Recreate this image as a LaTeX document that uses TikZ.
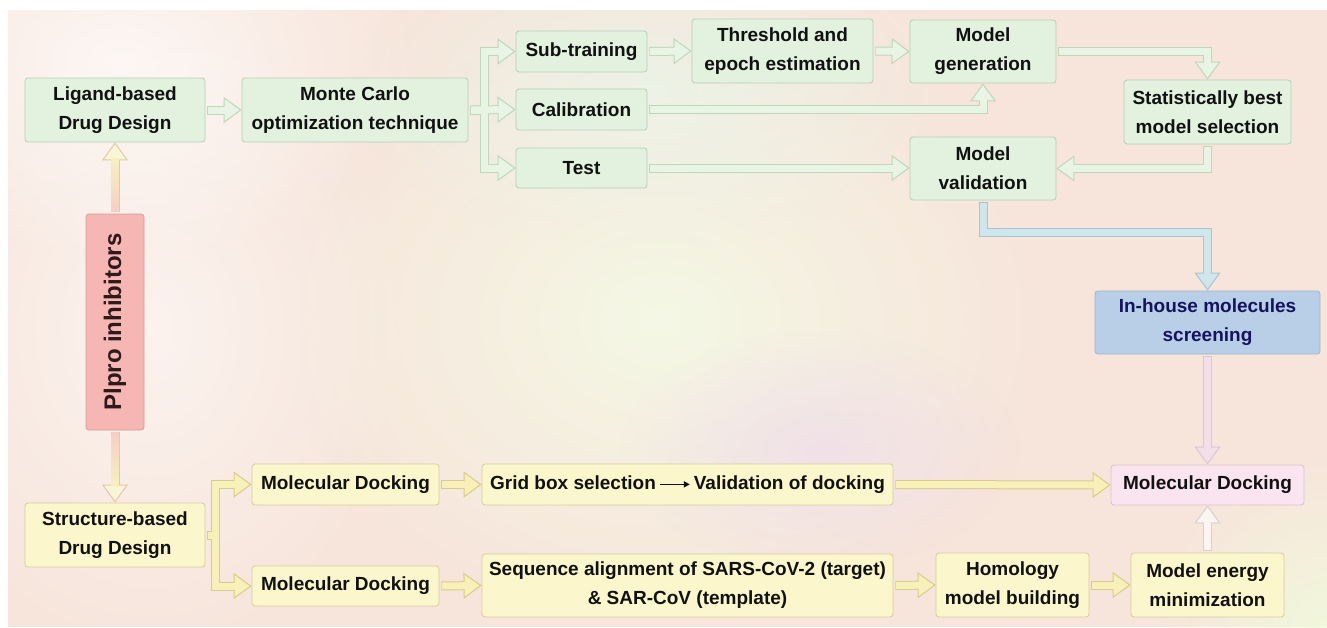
\documentclass[tikz,border=0pt]{standalone}
\usepackage{fontspec}
\setmainfont{Liberation Sans}
\usetikzlibrary{arrows.meta,fadings}
\definecolor{bgbase}{HTML}{F7E5DB}
\definecolor{gfill}{HTML}{E2F2DF}
\definecolor{gdraw}{HTML}{B9CDB5}
\definecolor{yfill}{HTML}{FBF6CC}
\definecolor{ydraw}{HTML}{D5CC9E}
\definecolor{rfill}{HTML}{F6B7B4}
\definecolor{rdraw}{HTML}{D69A98}
\definecolor{pltext}{HTML}{2E1A1A}
\definecolor{bfill}{HTML}{B9CFE7}
\definecolor{bdraw}{HTML}{9FB5CC}
\definecolor{btext}{HTML}{14145E}
\definecolor{pfill}{HTML}{F9E4EF}
\definecolor{pdraw}{HTML}{D8C4CF}
\definecolor{txt}{HTML}{111111}
\definecolor{gao}{HTML}{BFD6BA}
\definecolor{gaf}{HTML}{E8F5E4}
\definecolor{yao}{HTML}{D8CC8C}
\definecolor{yaf}{HTML}{F7F0B8}
\definecolor{cao}{HTML}{A9C4CF}
\definecolor{caf}{HTML}{CFE6EC}
\definecolor{pao}{HTML}{DCC6D4}
\definecolor{paf}{HTML}{F3DFE9}
\definecolor{wao}{HTML}{D8D0CC}
\definecolor{waf}{HTML}{FBF5F2}
\definecolor{oao}{HTML}{E2C9A8}
\definecolor{oyel}{HTML}{F8EFC0}
\definecolor{opink}{HTML}{F6CFC4}
\definecolor{otip}{HTML}{FBF5D8}
\definecolor{cgreen}{HTML}{F4F9E6}
\definecolor{lilac}{HTML}{EFDCEC}
\definecolor{cmint}{HTML}{EAF5E8}
\definecolor{cyel}{HTML}{F1F9DC}
\tikzfading[name=softc, inner color=transparent!0, outer color=transparent!100]
\tikzset{
  box/.style={rounded corners=3pt, line width=0.8pt, inner sep=0pt, align=center,
    font=\bfseries\fontsize{19}{29}\selectfont, text=txt},
  gbox/.style={box, fill=gfill, draw=gdraw},
  ybox/.style={box, fill=yfill, draw=ydraw},
  ao/.style 2 args={line width=9pt, draw=#1, line join=miter, shorten <=2pt,
    -{Triangle[length=18pt,width=26pt,line width=1pt,color=#1,fill=#2]}},
  ai/.style={line width=7pt, draw=#1, line join=miter, shorten <=2.5pt, shorten >=16.5pt},
}
\newcommand{\txtarrow}{\tikz[baseline=-0.5ex]\draw[line width=1.6pt,-{Triangle[length=6pt,width=6pt]}] (0pt,0pt) -- (30pt,0pt);}
\begin{document}
\begin{tikzpicture}[x=1pt,y=-1pt]
\useasboundingbox (0,0) rectangle (1327,627);
% background
\begin{scope}
\clip (8,10) rectangle (1327,627);
\fill[bgbase] (8,10) rectangle (1327,627);
\fill[white, path fading=softc, fill opacity=0.7] (120,60) ellipse[x radius=300pt, y radius=200pt];
\fill[white, path fading=softc, fill opacity=0.55] (150,330) ellipse[x radius=260pt, y radius=330pt];
\fill[cgreen, path fading=softc, fill opacity=0.95] (660,320) ellipse[x radius=380pt, y radius=300pt];
\fill[cmint, path fading=softc, fill opacity=0.8] (650,90) ellipse[x radius=300pt, y radius=160pt];
\fill[lilac, path fading=softc, fill opacity=0.7] (820,450) ellipse[x radius=200pt, y radius=120pt];
\fill[cyel, path fading=softc, fill opacity=0.95] (1327,627) ellipse[x radius=170pt, y radius=170pt];
\end{scope}

% nodes
\node[gbox, minimum width=180pt, minimum height=64pt] (lig) at (115,110) {Ligand-based\\Drug Design};
\node[gbox, minimum width=226pt, minimum height=64pt] (mc) at (355,110) {Monte Carlo\\optimization technique};
\node[gbox, minimum width=131pt, minimum height=41pt] (sub) at (581.5,51.5) {Sub-training};
\node[gbox, minimum width=131pt, minimum height=41pt] (cal) at (581.5,109.5) {Calibration};
\node[gbox, minimum width=131pt, minimum height=40pt] (test) at (581.5,168) {Test};
\node[gbox, minimum width=181pt, minimum height=64pt] (thr) at (782.5,51) {Threshold and\\epoch estimation};
\node[gbox, minimum width=146pt, minimum height=63pt] (gen) at (983,51.5) {Model\\generation};
\node[gbox, minimum width=167pt, minimum height=64pt] (stat) at (1207.5,112) {Statistically best\\model selection};
\node[gbox, minimum width=146pt, minimum height=63pt] (val) at (983,168.5) {Model\\validation};
\node[box, fill=bfill, draw=bdraw, text=btext, minimum width=225pt, minimum height=63pt] (inh) at (1207.5,322.5) {In-house molecules\\screening};
\node[box, fill=pfill, draw=pdraw, minimum width=193pt, minimum height=40pt] (pmd) at (1207.5,485) {Molecular Docking};
\node[ybox, minimum width=153pt, minimum height=64pt] (en) at (1207.5,585) {Model energy\\minimization};
\node[ybox, minimum width=153pt, minimum height=64pt] (hom) at (1012.5,585) {Homology\\model building};
\node[ybox, minimum width=411pt, minimum height=41pt] (grid) at (687.5,484.5) {Grid box selection\,\txtarrow\,Validation of docking};
\node[ybox, minimum width=411pt, minimum height=63pt] (seq) at (687.5,585.5) {Sequence alignment of SARS-CoV-2 (target)\\\& SAR-CoV (template)};
\node[box, fill=rfill, draw=rdraw, text=pltext, minimum width=216pt, minimum height=58pt, rotate=90,
  font=\bfseries\fontsize{24}{28}\selectfont] (pl) at (115,322) {Plpro inhibitors};
\node[ybox, minimum width=180pt, minimum height=64pt] (sbd) at (115,535) {Structure-based\\Drug Design};
\node[ybox, minimum width=187pt, minimum height=41pt] (md1) at (345.5,484.5) {Molecular Docking};
\node[ybox, minimum width=187pt, minimum height=40pt] (md2) at (345.5,586) {Molecular Docking};

\coordinate (t1) at (484,110);
\coordinate (t2) at (215,535);
\coordinate (v1) at (983,232);

% arrows: outlines and heads
\draw[ao={oao}{otip}] (pl.east) -- (lig.south);
\draw[ao={oao}{otip}] (pl.west) -- (sbd.north);
\draw[ao={gao}{gaf}] (lig.east) -- (mc.west);
\draw[ao={gao}{gaf}] (mc.east) -- (t1) |- (sub.west);
\draw[ao={gao}{gaf}] (mc.east) -- (cal.west);
\draw[ao={gao}{gaf}] (mc.east) -- (t1) |- (test.west);
\draw[ao={gao}{gaf}] (sub.east) -- (thr.west);
\draw[ao={gao}{gaf}] (thr.east) -- (gen.west);
\draw[ao={gao}{gaf}] (cal.east) -| (gen.south);
\draw[ao={gao}{gaf}] (gen.east) -| (stat.north);
\draw[ao={gao}{gaf}] (stat.south) |- (val.east);
\draw[ao={gao}{gaf}] (test.east) -- (test.east -| val.west);
\draw[ao={cao}{caf}] (val.south) -- (v1) -| (inh.north);
\draw[ao={pao}{paf}] (inh.south) -- (pmd.north);
\draw[ao={wao}{waf}] (en.north) -- (pmd.south);
\draw[ao={yao}{yaf}] (sbd.east) -- (t2) |- (md1.west);
\draw[ao={yao}{yaf}] (sbd.east) -- (t2) |- (md2.west);
\draw[ao={yao}{yaf}] (md1.east) -- (grid.west);
\draw[ao={yao}{yaf}] (grid.east) -- (pmd.west);
\draw[ao={yao}{yaf}] (md2.east) -- (seq.west);
\draw[ao={yao}{yaf}] (seq.east) -- (hom.west);
\draw[ao={yao}{yaf}] (hom.east) -- (en.west);
% arrows: inner shafts
\shade[top color=oyel, bottom color=opink] (111.5,158.5) rectangle (118.5,211.5);
\shade[top color=opink, bottom color=oyel] (111.5,432.5) rectangle (118.5,486.5);
\draw[ai=gaf] (lig.east) -- (mc.west);
\draw[ai=gaf] (mc.east) -- (t1) |- (sub.west);
\draw[ai=gaf] (mc.east) -- (cal.west);
\draw[ai=gaf] (mc.east) -- (t1) |- (test.west);
\draw[ai=gaf] (sub.east) -- (thr.west);
\draw[ai=gaf] (thr.east) -- (gen.west);
\draw[ai=gaf] (cal.east) -| (gen.south);
\draw[ai=gaf] (gen.east) -| (stat.north);
\draw[ai=gaf] (stat.south) |- (val.east);
\draw[ai=gaf] (test.east) -- (test.east -| val.west);
\draw[ai=caf] (val.south) -- (v1) -| (inh.north);
\draw[ai=paf] (inh.south) -- (pmd.north);
\draw[ai=waf] (en.north) -- (pmd.south);
\draw[ai=yaf] (sbd.east) -- (t2) |- (md1.west);
\draw[ai=yaf] (sbd.east) -- (t2) |- (md2.west);
\draw[ai=yaf] (md1.east) -- (grid.west);
\draw[ai=yaf] (grid.east) -- (pmd.west);
\draw[ai=yaf] (md2.east) -- (seq.west);
\draw[ai=yaf] (seq.east) -- (hom.west);
\draw[ai=yaf] (hom.east) -- (en.west);
\end{tikzpicture}
\end{document}
